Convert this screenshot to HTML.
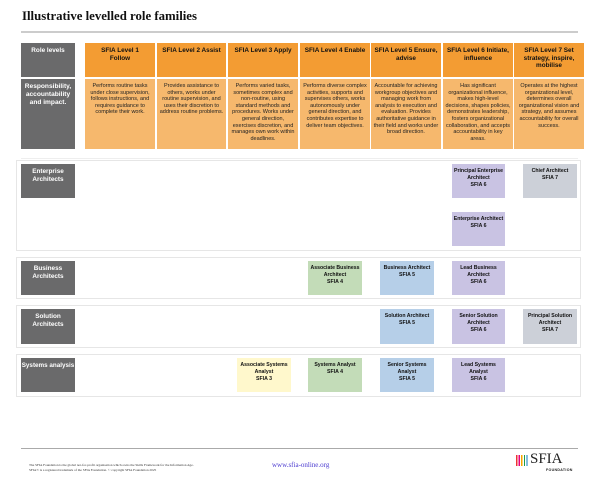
<!DOCTYPE html>
<html><head><meta charset="utf-8"><style>
*{margin:0;padding:0;box-sizing:border-box}
body{width:600px;height:478px;background:#fff;position:relative;overflow:hidden;font-family:"Liberation Sans",sans-serif}
.a{position:absolute}
.t{font-family:"Liberation Serif",serif;font-weight:bold;font-size:12.8px;left:22px;top:9px;color:#111}
.hl{background:#ccc;height:2px}
.g{background:#6a6a6b;color:#fff;font-weight:bold;font-size:6.4px;text-align:center;padding-top:4px;line-height:1.2}
.oh{background:#f39c33;color:#111;font-weight:bold;font-size:6.4px;text-align:center;padding:4px 2px 0;line-height:1.2}
.ob{background:#f6b86d;color:#222;font-size:5.5px;text-align:center;padding:4px 2px 0;line-height:1.2}
.fr{border:1.5px solid #e6e6e6}
.b{color:#111;font-weight:bold;font-size:5.2px;text-align:center;padding-top:4px;line-height:1.3}
.p{background:#c9c3e3}.s{background:#ccd0d8}.gr{background:#c3dcb8}.bl{background:#b6cfe8}.y{background:#fff8cc}
</style></head><body>
<div class="a t">Illustrative levelled role families</div>
<div class="a hl" style="left:21px;top:31px;width:557px"></div>

<div class="a g" style="left:21px;top:43px;width:54px;height:34px">Role levels</div>
<div class="a g" style="left:21px;top:79px;width:54px;height:70px;font-size:6.6px">Responsibility,<br>accountability<br>and impact.</div>

<div class="a oh" style="left:85px;top:43px;width:70px;height:34px">SFIA Level 1<br>Follow</div>
<div class="a oh" style="left:157px;top:43px;width:69px;height:34px">SFIA Level 2 Assist</div>
<div class="a oh" style="left:228px;top:43px;width:70px;height:34px">SFIA Level 3 Apply</div>
<div class="a oh" style="left:300px;top:43px;width:70px;height:34px">SFIA Level 4 Enable</div>
<div class="a oh" style="left:371px;top:43px;width:70px;height:34px">SFIA Level 5 Ensure,<br>advise</div>
<div class="a oh" style="left:443px;top:43px;width:70px;height:34px">SFIA Level 6 Initiate,<br>influence</div>
<div class="a oh" style="left:514px;top:43px;width:70px;height:34px">SFIA Level 7 Set<br>strategy, inspire,<br>mobilise</div>

<div class="a ob" style="left:85px;top:79px;width:70px;height:70px">Performs routine tasks under close supervision, follows instructions, and requires guidance to complete their work.</div>
<div class="a ob" style="left:157px;top:79px;width:69px;height:70px">Provides assistance to others, works under routine supervision, and uses their discretion to address routine problems.</div>
<div class="a ob" style="left:228px;top:79px;width:70px;height:70px">Performs varied tasks, sometimes complex and non-routine, using standard methods and procedures. Works under general direction, exercises discretion, and manages own work within deadlines.</div>
<div class="a ob" style="left:300px;top:79px;width:70px;height:70px">Performs diverse complex activities, supports and supervises others, works autonomously under general direction, and contributes expertise to deliver team objectives.</div>
<div class="a ob" style="left:371px;top:79px;width:70px;height:70px">Accountable for achieving workgroup objectives and managing work from analysis to execution and evaluation. Provides authoritative guidance in their field and works under broad direction.</div>
<div class="a ob" style="left:443px;top:79px;width:70px;height:70px">Has significant organizational influence, makes high-level decisions, shapes policies, demonstrates leadership, fosters organizational collaboration, and accepts accountability in key areas.</div>
<div class="a ob" style="left:514px;top:79px;width:70px;height:70px">Operates at the highest organizational level, determines overall organizational vision and strategy, and assumes accountability for overall success.</div>
<div class="a" style="left:21px;top:158px;width:557px;height:1px;background:#eee"></div>

<div class="a fr" style="left:16px;top:160px;width:565px;height:91px"></div>
<div class="a g" style="left:21px;top:164px;width:54px;height:34px">Enterprise<br>Architects</div>
<div class="a b p" style="left:452px;top:164px;width:53px;height:34px">Principal Enterprise<br>Architect<br>SFIA 6</div>
<div class="a b s" style="left:523px;top:164px;width:54px;height:34px">Chief Architect<br>SFIA 7</div>
<div class="a b p" style="left:452px;top:212px;width:53px;height:34px">Enterprise Architect<br>SFIA 6</div>

<div class="a fr" style="left:16px;top:257px;width:565px;height:42px"></div>
<div class="a g" style="left:21px;top:261px;width:54px;height:34px">Business<br>Architects</div>
<div class="a b gr" style="left:308px;top:261px;width:54px;height:34px">Associate Business<br>Architect<br>SFIA 4</div>
<div class="a b bl" style="left:380px;top:261px;width:54px;height:34px">Business Architect<br>SFIA 5</div>
<div class="a b p" style="left:452px;top:261px;width:53px;height:34px">Lead Business<br>Architect<br>SFIA 6</div>

<div class="a fr" style="left:16px;top:305px;width:565px;height:43px"></div>
<div class="a g" style="left:21px;top:309px;width:54px;height:35px">Solution<br>Architects</div>
<div class="a b bl" style="left:380px;top:309px;width:54px;height:35px">Solution Architect<br>SFIA 5</div>
<div class="a b p" style="left:452px;top:309px;width:53px;height:35px">Senior Solution<br>Architect<br>SFIA 6</div>
<div class="a b s" style="left:523px;top:309px;width:54px;height:35px">Principal Solution<br>Architect<br>SFIA 7</div>

<div class="a fr" style="left:16px;top:354px;width:565px;height:43px"></div>
<div class="a g" style="left:21px;top:358px;width:54px;height:34px;font-size:6.3px;white-space:nowrap">Systems analysis</div>
<div class="a b y" style="left:237px;top:358px;width:54px;height:34px">Associate Systems<br>Analyst<br>SFIA 3</div>
<div class="a b gr" style="left:308px;top:358px;width:54px;height:34px">Systems Analyst<br>SFIA 4</div>
<div class="a b bl" style="left:380px;top:358px;width:54px;height:34px">Senior Systems<br>Analyst<br>SFIA 5</div>
<div class="a b p" style="left:452px;top:358px;width:53px;height:34px">Lead Systems<br>Analyst<br>SFIA 6</div>

<div class="a" style="left:21px;top:448px;width:557px;height:1px;background:#aaa"></div>
<div class="a" style="left:29px;top:463px;font-family:'Liberation Serif',serif;font-size:3.4px;line-height:1.5;color:#333;white-space:nowrap">The SFIA Foundation is the global not-for-profit organisation which owns the Skills Framework for the Information Age.<br>SFIA® is a registered trademark of the SFIA Foundation. © copyright SFIA Foundation 2025</div>
<div class="a" style="left:272px;top:461px;font-family:'Liberation Serif',serif;font-size:7px;color:#4a3ad0">www.sfia-online.org</div>
<div class="a" style="left:516px;top:455px;width:13px;height:11px;background:linear-gradient(90deg,#e33 0 1.3px,transparent 1.3px 2.6px,#e6007e 2.6px 3.9px,transparent 3.9px 5.2px,#f7a600 5.2px 6.5px,transparent 6.5px 7.8px,#1a9e4b 7.8px 9.1px,transparent 9.1px 10.4px,#0a7cc1 10.4px 11.7px,transparent 11.7px)"></div>
<div class="a" style="left:530px;top:452px;font-family:'Liberation Serif',serif;font-size:15px;line-height:15px;color:#222">SFIA</div>
<div class="a" style="left:546px;top:468px;font-size:3.6px;font-weight:bold;color:#222;letter-spacing:.3px">FOUNDATION</div>
</body></html>
